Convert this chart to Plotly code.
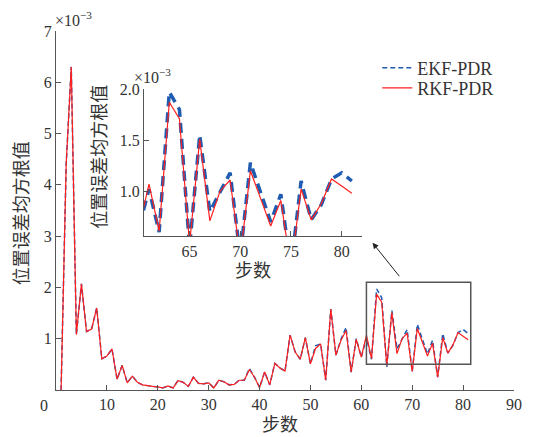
import plotly.graph_objects as go

steps = list(range(1, 82))
rkf_pdr = [0, 4.4, 6.3, 1.08, 2.07, 1.14, 1.19, 1.6, 0.61, 0.66,
           0.8, 0.21, 0.48, 0.14, 0.27, 0.15, 0.1, 0.08, 0.07, 0.06,
           0.04, 0.08, 0.04, 0.18, 0.15, 0.07, 0.25, 0.13, 0.12, 0.14,
           0.04, 0.19, 0.16, 0.1, 0.11, 0.19, 0.19, 0.4, 0.25, 0.05,
           0.35, 0.1, 0.52, 0.43, 0.37, 1.07, 0.74, 0.6, 1.02, 0.51,
           0.81, 0.9, 0.19, 1.58, 0.68, 0.97, 1.16, 0.35, 0.99, 0.64,
           1.07, 0.61, 1.87, 1.71, 0.48, 1.51, 0.71, 1.0, 1.11, 0.36,
           1.2, 0.93, 0.66, 0.91, 0.25, 1.02, 0.72, 0.88, 1.12, 1.05,
           0.98]
ekf_pdr = [0, 4.4, 6.3, 1.08, 2.07, 1.14, 1.19, 1.6, 0.61, 0.66,
           0.8, 0.21, 0.48, 0.14, 0.27, 0.15, 0.1, 0.08, 0.07, 0.06,
           0.04, 0.08, 0.04, 0.19, 0.15, 0.07, 0.25, 0.13, 0.12, 0.14,
           0.04, 0.19, 0.16, 0.1, 0.11, 0.19, 0.19, 0.42, 0.25, 0.05,
           0.35, 0.1, 0.52, 0.43, 0.37, 1.07, 0.74, 0.6, 1.02, 0.51,
           0.86, 0.9, 0.19, 1.58, 0.68, 0.99, 1.22, 0.35, 1.0, 0.64,
           1.02, 0.6, 1.97, 1.8, 0.45, 1.55, 0.8, 0.99, 1.18, 0.36,
           1.28, 0.99, 0.7, 0.97, 0.25, 1.1, 0.72, 0.87, 1.12, 1.18,
           1.1]

main_xticks = [0, 10, 20, 30, 40, 50, 60, 70, 80, 90]
main_xticklabels = ["", "10", "20", "30", "40", "50", "60", "70", "80", "90"]
main_yticks = [1, 2, 3, 4, 5, 6, 7]
inset_xticks = [65, 70, 75, 80]
inset_yticks = [1.0, 1.5, 2.0]
inset_yticklabels = ["1.0", "1.5", "2.0"]

BLUE = "#1f5bb0"
RED = "#ff1f1f"
AX = "#555555"
TXT = "#333333"
FONT = "Liberation Serif, 'Noto Sans CJK SC', serif"

fig = go.Figure()
fig.add_trace(go.Scatter(x=steps, y=ekf_pdr, mode="lines", name="EKF-PDR",
                         line=dict(color=BLUE, width=1.5, dash="5px,3px"),
                         xaxis="x", yaxis="y", legend="legend"))
fig.add_trace(go.Scatter(x=steps, y=rkf_pdr, mode="lines", name="RKF-PDR",
                         line=dict(color=RED, width=1.2),
                         xaxis="x", yaxis="y", legend="legend2"))
fig.add_trace(go.Scatter(x=steps, y=ekf_pdr, mode="lines", showlegend=False,
                         line=dict(color=BLUE, width=3.5, dash="10px,6px"),
                         xaxis="x2", yaxis="y2"))
fig.add_trace(go.Scatter(x=steps, y=rkf_pdr, mode="lines", showlegend=False,
                         line=dict(color=RED, width=1.2),
                         xaxis="x2", yaxis="y2"))

axis_common = dict(showline=True, linecolor=AX, linewidth=1.2, ticks="inside",
                   ticklen=5, tickcolor=AX, showgrid=False, zeroline=False,
                   tickfont=dict(family=FONT, size=16, color=TXT))

legend_common = dict(xanchor="left", yanchor="middle", bgcolor="rgba(0,0,0,0)",
                     font=dict(family=FONT, size=18, color=TXT), itemwidth=30)

# page body has an 8px default margin, so the figure is shrunk by 8px and
# the margins reduced so that the plot area lands where the reference has it
fig.update_layout(
    width=526, height=429,
    margin=dict(l=48, r=18, t=23, b=47),
    paper_bgcolor="white", plot_bgcolor="white",
    font=dict(family=FONT, color=TXT),
    xaxis=dict(domain=[0, 1], range=[0, 90], tickvals=main_xticks,
               ticktext=main_xticklabels, **axis_common),
    yaxis=dict(domain=[0, 1], range=[0, 7], tickvals=main_yticks, **axis_common),
    xaxis2=dict(domain=[0.192, 0.668], range=[60.5, 82], tickvals=inset_xticks,
                anchor="y2", **axis_common),
    yaxis2=dict(domain=[0.4276, 0.8384], range=[0.557, 2.0], tickvals=inset_yticks,
                ticktext=inset_yticklabels, anchor="x2", **axis_common),
    legend=dict(x=0.7015, y=0.897, **legend_common),
    legend2=dict(x=0.7015, y=0.841, **legend_common),
    showlegend=True,
)

fig.add_shape(type="rect", xref="x", yref="y", x0=61, x1=81.5, y0=0.5, y1=2.1,
              line=dict(color="#555555", width=1.5))

ann_font = dict(family=FONT, size=18, color=TXT)
# the origin label sits left of the axis corner in the reference
fig.add_annotation(xref="paper", yref="paper", x=-0.026, y=-0.0418,
                   xanchor="center", yanchor="middle", text="0", showarrow=False,
                   font=dict(family=FONT, size=16, color=TXT))
fig.add_annotation(xref="paper", yref="paper", x=0.49, y=-0.0975, yanchor="middle",
                   text="步数", showarrow=False, font=ann_font)
fig.add_annotation(xref="paper", yref="paper", x=-0.0746, y=0.4916, xanchor="center",
                   yanchor="middle", text="位置误差均方根值", textangle=-90,
                   showarrow=False, font=ann_font)
fig.add_annotation(xref="paper", yref="paper", x=0.43, y=0.331, yanchor="middle",
                   text="步数", showarrow=False, font=ann_font)
fig.add_annotation(xref="paper", yref="paper", x=0.0957, y=0.649, xanchor="center",
                   yanchor="middle", text="位置误差均方根值", textangle=-90,
                   showarrow=False, font=ann_font)
fig.add_annotation(xref="paper", yref="paper", x=-0.006, y=1.0, xanchor="left",
                   yanchor="bottom", text="×10<sup>−3</sup>", showarrow=False,
                   font=dict(family=FONT, size=16, color=TXT))
fig.add_annotation(xref="paper", yref="paper", x=0.165, y=0.84, xanchor="left",
                   yanchor="bottom", text="×10<sup>−3</sup>", showarrow=False,
                   font=dict(family=FONT, size=16, color=TXT))
fig.add_annotation(xref="x", yref="y", x=62.2, y=2.87, axref="x", ayref="y",
                   ax=67.7, ay=2.19, showarrow=True, arrowhead=2, arrowsize=1.2,
                   arrowwidth=1, arrowcolor="#222222", text="")

fig.write_html("out.html")
